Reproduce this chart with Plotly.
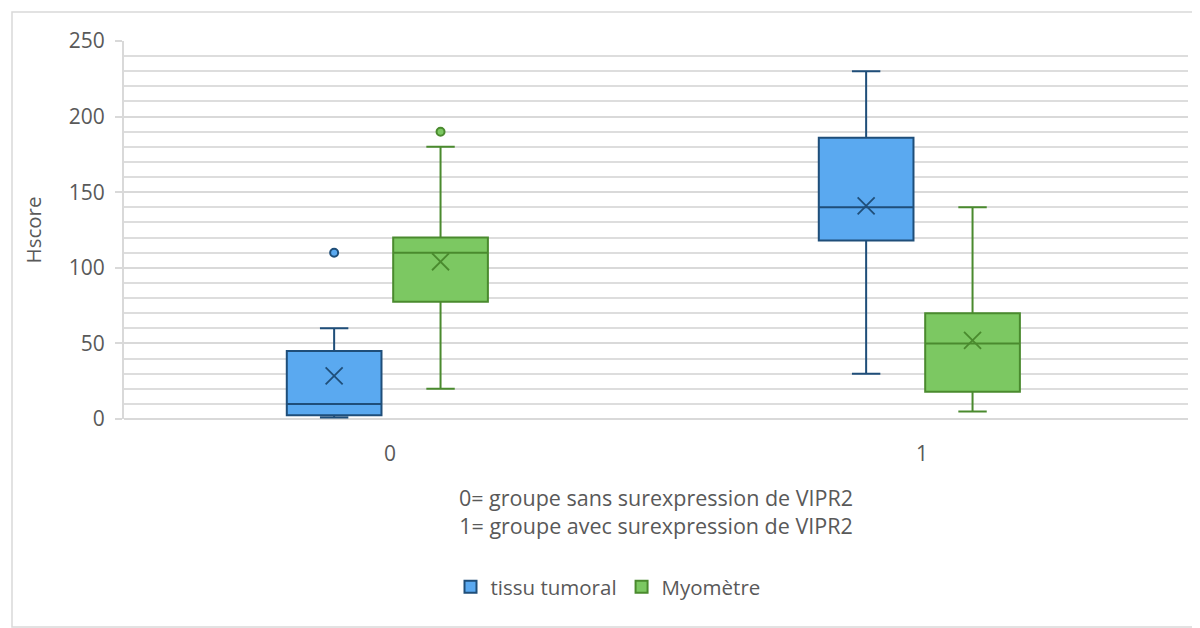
import plotly.graph_objects as go

# ---- data ----
groups = [0, 1]
group_labels = ["0", "1"]
series_names = ["tissu tumoral", "Myomètre"]

tumoral_lower = [1, 30]
tumoral_q1 = [2.5, 118]
tumoral_median = [10, 140]
tumoral_q3 = [45, 186]
tumoral_upper = [60, 230]
tumoral_mean = [28.5, 141]
tumoral_outliers_x = [0]
tumoral_outliers_y = [110]

myo_lower = [20, 5]
myo_q1 = [77.5, 18]
myo_median = [110, 50]
myo_q3 = [120, 70]
myo_upper = [180, 140]
myo_mean = [104, 52]
myo_outliers_x = [0]
myo_outliers_y = [190]

# ---- styles ----
FONT = "Open Sans"
GREY = "#595959"
blue_fill, blue_line = "#5AA9F0", "#1F4E79"
green_fill, green_line = "#7CC862", "#4A8A2E"
offset_tum = -0.105
offset_myo = 0.095
bw = 0.178

fig = go.Figure()

def add_series(name, lower, q1, med, q3, upper, mean, ox, oy, off, fill, line):
    xs = [g + off for g in groups]
    fig.add_trace(go.Box(
        name=name, x=xs, q1=q1, median=med, q3=q3,
        lowerfence=lower, upperfence=upper,
        width=bw, whiskerwidth=0.3,
        fillcolor=fill, line=dict(color=line, width=2),
        boxpoints=False, showlegend=True, hoverinfo="skip",
        legendgroup=name,
    ))
    fig.add_trace(go.Scatter(
        x=xs, y=mean, mode="markers",
        marker=dict(symbol="x-thin-open", size=17, line=dict(color=line, width=1.8), color=line),
        showlegend=False, hoverinfo="skip", legendgroup=name,
    ))
    fig.add_trace(go.Scatter(
        x=[x + off for x in ox], y=oy, mode="markers",
        marker=dict(symbol="circle", size=8, color=fill, line=dict(color=line, width=2)),
        showlegend=False, hoverinfo="skip", legendgroup=name,
    ))

add_series(series_names[0], tumoral_lower, tumoral_q1, tumoral_median, tumoral_q3,
           tumoral_upper, tumoral_mean, tumoral_outliers_x, tumoral_outliers_y,
           offset_tum, blue_fill, blue_line)
add_series(series_names[1], myo_lower, myo_q1, myo_median, myo_q3,
           myo_upper, myo_mean, myo_outliers_x, myo_outliers_y,
           offset_myo, green_fill, green_line)

# page has an 8px body margin; work in page pixels and convert
PAD = 8
W, H = 1192, 620
plot_left, plot_right, plot_top, plot_bottom = 124, 1188, 41, 419  # page px
L = plot_left - PAD
T = plot_top - PAD
R = W - (plot_right - PAD)
B = H - (plot_bottom - PAD)
pw, ph = plot_right - plot_left, plot_bottom - plot_top

def px_to_paper_x(px):
    return (px - plot_left) / pw

def px_to_paper_y(py):
    return (plot_bottom - py) / ph

fig.update_layout(
    width=W, height=H,
    margin=dict(l=L, r=R, t=T, b=B),
    paper_bgcolor="white", plot_bgcolor="white",
    font=dict(family=FONT, color=GREY, size=21),
    boxmode="overlay",
    showlegend=True,
    legend=dict(orientation="h", x=px_to_paper_x(608), xanchor="center",
                y=px_to_paper_y(587), yanchor="middle",
                font=dict(size=20.5, color=GREY), itemwidth=30),
    xaxis=dict(
        range=[-0.5, 1.5], tickmode="array", tickvals=groups, ticktext=group_labels,
        showgrid=False, zeroline=False, showline=False, ticks="",
        tickfont=dict(size=21, color=GREY), ticklabelstandoff=20,
        title=dict(text="0= groupe sans surexpression de VIPR2<br>1= groupe avec surexpression de VIPR2",
                   font=dict(size=21.5, color=GREY), standoff=24),
    ),
    yaxis=dict(
        range=[0, 250], dtick=50, tick0=0,
        showgrid=True, gridcolor="#D9D9D9", gridwidth=2,
        minor=dict(dtick=10, showgrid=True, gridcolor="#DDDDDD", gridwidth=2),
        zeroline=False, showline=True, linecolor="#D9D9D9", linewidth=2,
        ticks="outside", ticklen=7, tickcolor="#D9D9D9", tickwidth=2,
        tickfont=dict(size=21, color=GREY), ticklabelstandoff=6,
        title=dict(text="Hscore", font=dict(size=20.5, color=GREY), standoff=22),
    ),
    shapes=[
        dict(type="line", xref="paper", yref="paper", x0=0, x1=1, y0=0, y1=0,
             line=dict(color="#D9D9D9", width=2), layer="below"),
        dict(type="rect", xref="paper", yref="paper",
             x0=px_to_paper_x(12), x1=px_to_paper_x(1199),
             y0=px_to_paper_y(627), y1=px_to_paper_y(12),
             line=dict(color="#D9D9D9", width=1.5), fillcolor="rgba(0,0,0,0)"),
    ],
)

fig.write_html("out.html")
